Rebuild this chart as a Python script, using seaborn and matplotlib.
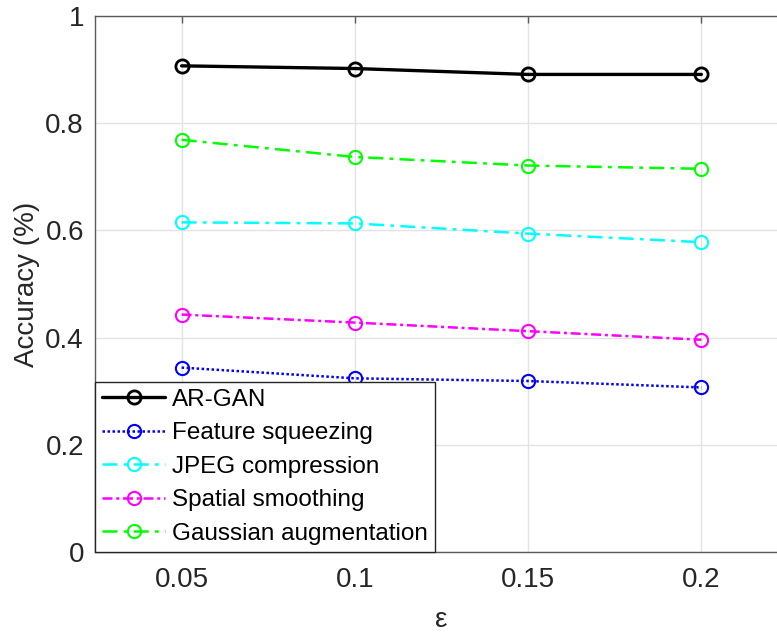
import matplotlib
matplotlib.use("Agg")
import matplotlib.pyplot as plt
import seaborn as sns

# ---- data ----
eps = [0.05, 0.1, 0.15, 0.2]
ar_gan = [0.907, 0.902, 0.891, 0.891]
feature_squeezing = [0.344, 0.324, 0.319, 0.307]
jpeg_compression = [0.615, 0.613, 0.594, 0.578]
spatial_smoothing = [0.443, 0.428, 0.412, 0.396]
gaussian_augmentation = [0.769, 0.737, 0.721, 0.715]
series_names = ["AR-GAN", "Feature squeezing", "JPEG compression",
                "Spatial smoothing", "Gaussian augmentation"]
x_tick_labels = ["0.05", "0.1", "0.15", "0.2"]
y_ticks = [0, 0.2, 0.4, 0.6, 0.8, 1.0]
y_tick_labels = ["0", "0.2", "0.4", "0.6", "0.8", "1"]

sns.set_theme(style="white")
plt.rcParams["font.family"] = ["Liberation Sans", "DejaVu Sans"]

fig = plt.figure(figsize=(7.77, 6.35), dpi=100)
ax = fig.add_axes([95 / 777, 1 - 552 / 635, 693 / 777, 536 / 635])

styles = [
    (ar_gan, "#000000", "-", 2.4, 2.0),
    (feature_squeezing, "#0000ff", (0, (1, 1)), 1.8, 1.5),
    (jpeg_compression, "#00ffff", (0, (6, 2.5, 1.5, 2.5)), 1.8, 1.5),
    (spatial_smoothing, "#ff00ff", (0, (4, 1.5, 1.2, 1.5)), 1.8, 1.5),
    (gaussian_augmentation, "#00ff00", (0, (6, 2.5, 1.5, 2.5)), 1.8, 1.5),
]

for (vals, col, ls, lw, mew), name in zip(styles, series_names):
    sns.lineplot(x=eps, y=vals, ax=ax, color=col, linestyle=ls, linewidth=lw,
                 marker="o", markersize=9.5, markerfacecolor="none",
                 markeredgecolor=col, markeredgewidth=mew, label=name,
                 zorder=3)

ax.set_xlim(0.025, 0.225)
ax.set_ylim(0, 1)
ax.set_xticks(eps)
ax.set_xticklabels(x_tick_labels)
ax.set_yticks(y_ticks)
ax.set_yticklabels(y_tick_labels)
ax.grid(True, color="#e3e3e3", linewidth=1.0, zorder=0)
ax.set_axisbelow(True)

for s in ax.spines.values():
    s.set_visible(True)
    s.set_color("#5a5a5a")
    s.set_linewidth(1.0)

ax.tick_params(axis="both", direction="in", length=5, width=1, color="#5a5a5a",
               labelsize=20, labelcolor="#262626", top=True, right=True)
ax.tick_params(axis="y", pad=8)
ax.tick_params(axis="x", pad=11)

ax.set_xlabel("ε", fontsize=20, color="#262626", labelpad=10)
ax.set_ylabel("Accuracy (%)", fontsize=20, color="#262626", labelpad=4)

leg = ax.legend(loc="lower left", bbox_to_anchor=(0, 0), borderaxespad=0,
                fontsize=17.5, frameon=True, fancybox=False, framealpha=1,
                edgecolor="#262626", handlelength=2.6, handletextpad=0.25,
                borderpad=0.3, labelspacing=0.47)
leg.get_frame().set_linewidth(1.0)
for t in leg.get_texts():
    t.set_color("#000000")

fig.savefig("out.png", dpi=100)
